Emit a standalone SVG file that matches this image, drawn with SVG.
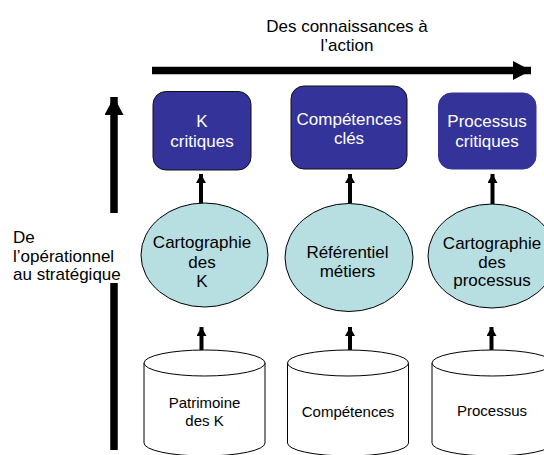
<svg xmlns="http://www.w3.org/2000/svg" width="544" height="455" viewBox="0 0 544 455">
<defs>
<marker id="bigHead" markerUnits="userSpaceOnUse" markerWidth="18" markerHeight="19" refX="18" refY="9.5" orient="auto">
<path d="M0,0 L18,9.5 L0,19 Z" fill="#000"/>
</marker>
<marker id="smallHead" markerUnits="userSpaceOnUse" markerWidth="10" markerHeight="10" refX="9" refY="5" orient="auto">
<path d="M0,0 L9,5 L0,10 Z" fill="#000"/>
</marker>
</defs>
<style>
text{font-family:"Liberation Sans",Arial,sans-serif;font-size:17px;text-anchor:middle;fill:#000;stroke:none}
.box{fill:#333399;stroke:#111;stroke-width:1}
.w{fill:#fff}
.ell{fill:#b7dfe1;stroke:#000;stroke-width:1}
.cyl{fill:#fff;stroke:#000;stroke-width:1}
.cylt{font-size:15px}
.big{stroke:#000;stroke-width:7.5;fill:none}
.small{stroke:#000;stroke-width:4;fill:none}
.lt{text-anchor:start}
</style>
<rect width="544" height="455" fill="#fff"/>

<g id="axis-top">
<text x="347" y="32">Des connaissances à</text>
<text x="347" y="51">l’action</text>
</g>
<g id="axis-left">
<text class="lt" x="13" y="243">De</text>
<text class="lt" x="13" y="261.5">l’opérationnel</text>
<text class="lt" x="13" y="280">au stratégique</text>
</g>

<g id="connectors">
<line class="big" x1="152" y1="70.5" x2="531" y2="70.5" marker-end="url(#bigHead)"/>
<line class="big" x1="114" y1="450" x2="114" y2="283"/>
<line class="big" x1="114" y1="213" x2="114" y2="97" marker-end="url(#bigHead)"/>
<line class="small" x1="201" y1="203" x2="201" y2="174" marker-end="url(#smallHead)"/>
<line class="small" x1="350" y1="203" x2="350" y2="174" marker-end="url(#smallHead)"/>
<line class="small" x1="492.5" y1="204" x2="492.5" y2="174" marker-end="url(#smallHead)"/>
<line class="small" x1="201.5" y1="352" x2="201.5" y2="327" marker-end="url(#smallHead)"/>
<line class="small" x1="350" y1="352" x2="350" y2="327" marker-end="url(#smallHead)"/>
<line class="small" x1="491.5" y1="352" x2="491.5" y2="327" marker-end="url(#smallHead)"/>
</g>

<g id="k-critiques">
<rect class="box" x="153" y="91.5" width="98" height="78.5" rx="13"/>
<text class="w" x="202" y="127">K</text>
<text class="w" x="202" y="147">critiques</text>
</g>
<g id="competences-cles">
<rect class="box" x="291" y="86" width="116" height="83" rx="13"/>
<text class="w" x="349" y="125">Compétences</text>
<text class="w" x="349" y="144">clés</text>
</g>
<g id="processus-critiques">
<rect class="box" x="438.5" y="93" width="97.5" height="76" rx="13" style="stroke:#333399"/>
<text class="w" x="487" y="127">Processus</text>
<text class="w" x="487" y="147">critiques</text>
</g>

<g id="carto-k">
<ellipse class="ell" cx="204.5" cy="255" rx="63.5" ry="52"/>
<text x="202" y="248">Cartographie</text>
<text x="202" y="267.5">des</text>
<text x="202" y="287">K</text>
</g>
<g id="referentiel">
<ellipse class="ell" cx="349" cy="257.5" rx="64" ry="54"/>
<text x="347.5" y="258">Référentiel</text>
<text x="347.5" y="277">métiers</text>
</g>
<g id="carto-processus">
<ellipse class="ell" cx="492" cy="256" rx="64" ry="52"/>
<text x="492" y="249">Cartographie</text>
<text x="492" y="267.5">des</text>
<text x="492" y="286">processus</text>
</g>

<g id="patrimoine">
<path class="cyl" d="M144,363 L144,443 A60.5,13 0 0 0 265,443 L265,363"/>
<ellipse class="cyl" cx="204.5" cy="363" rx="60.5" ry="13"/>
<text class="cylt" x="204.5" y="408">Patrimoine</text>
<text class="cylt" x="204.5" y="426">des K</text>
</g>
<g id="competences">
<path class="cyl" d="M287.5,363 L287.5,443 A60.5,13 0 0 0 408.5,443 L408.5,363"/>
<ellipse class="cyl" cx="348" cy="363" rx="60.5" ry="13"/>
<text class="cylt" x="348" y="417">Compétences</text>
</g>
<g id="processus">
<path class="cyl" d="M432,363 L432,443 A60.5,13 0 0 0 553,443 L553,363"/>
<ellipse class="cyl" cx="492.5" cy="363" rx="60.5" ry="13"/>
<text class="cylt" x="492" y="416">Processus</text>
</g>
</svg>
